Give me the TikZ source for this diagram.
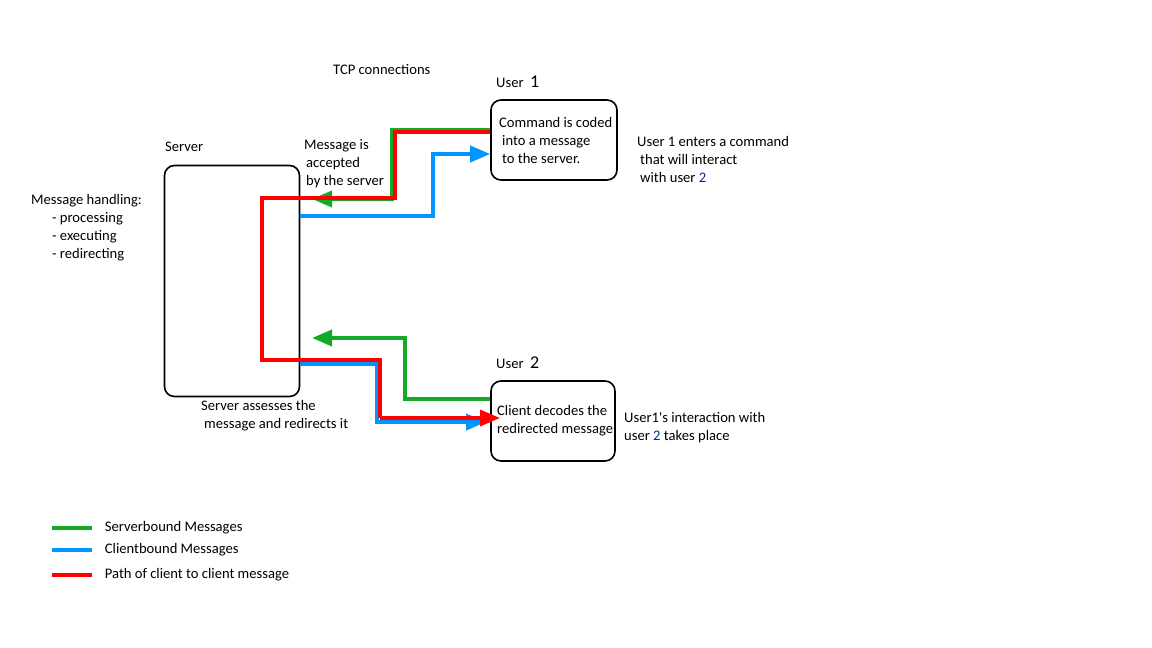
\documentclass[tikz,border=0pt]{standalone}
\usepackage{fontspec}
\setmainfont{Carlito}
\usetikzlibrary{arrows.meta}
\definecolor{sbgreen}{RGB}{20,170,40}
\definecolor{cbblue}{RGB}{0,150,255}
\definecolor{pathred}{RGB}{255,0,0}
\definecolor{numblue}{RGB}{0,40,140}

\begin{document}
\begin{tikzpicture}[x=1pt,y=-1pt,>={Triangle[length=20pt,width=16pt]},line join=miter,
  box/.style={draw,line width=1.6pt,rounded corners=10pt},
  txt/.style={font=\fontsize{14.6}{17.9}\selectfont,align=left,inner sep=0pt,anchor=west},
  serverbound/.style={draw=sbgreen,line width=3.8pt},
  clientbound/.style={draw=cbblue,line width=3.8pt},
  c2c/.style={draw=pathred,line width=3.2pt}]

  \useasboundingbox (0,0) rectangle (1152,648);

  % boxes
  \node[box,minimum width=135pt,minimum height=231pt] (srv) at (232,281) {};
  \node[box,minimum width=126pt,minimum height=80pt] (user1) at (554,140) {};
  \node[box,minimum width=124pt,minimum height=80pt] (user2) at (553,421) {};

  % labels
  \node[txt] (tcp) at (333,69.5) {TCP connections};
  \node[txt] (u1lbl) at (496,82) {User\ \ {\fontsize{18}{18}\selectfont 1}};
  \node[txt] (srvlbl) at (165,146.5) {Server};
  \node[txt] (accept) at (304,163.5) {Message is\\\hspace*{2pt}accepted\\\hspace*{2pt}by the server};
  \node[txt] (cmd) at (499,140.5) {Command is coded\\\hspace*{3pt}into a message\\\hspace*{3pt}to the server.};
  \node[txt] (enter) at (637,159.5) {User 1 enters a command\\\hspace*{3pt}that will interact\\\hspace*{3pt}with user \textcolor{numblue}{2}};
  \node[txt] (handling) at (31,228) {Message handling:\\\hspace*{21pt}- processing\\\hspace*{21pt}- executing\\\hspace*{21pt}- redirecting};
  \node[txt] (assess) at (201,415.5) {Server assesses the\\\hspace*{3pt}message and redirects it};
  \node[txt] (u2lbl) at (496,363) {User\ \ {\fontsize{18}{18}\selectfont 2}};
  \node[txt] (decode) at (497,420.5) {Client decodes the\\redirected message};
  \node[txt] (interact) at (624,427.5) {User1\textquotesingle s interaction with\\user \textcolor{numblue}{2}\ takes place};

  % connectors
  \draw[clientbound,->] (srv.east |- 0,216) -- (433,216) -- (433,154) -- (user1.west |- 0,154);
  \draw[clientbound,->] (srv.east |- 0,364) -- (377,364) -- (377,422) -- (486,422);
  \draw[serverbound,->] (user1.west |- 0,130) -- (392,130) -- (392,199) -- (312,199);
  \draw[serverbound,->] (user2.west |- 0,399) -- (405,399) -- (405,338) -- (312,338);
  \draw[c2c] (user1.west |- 0,132) -- (395,132) -- (395,198) -- (262,198) -- (262,360) -- (380,360) -- (380,418);
  \draw[c2c,->] (380,418) -- (500,418);

  % legend
  \draw[serverbound] (52,528) -- (92,528) node[txt,black,right=11pt] (lgsb) {Serverbound Messages};
  \draw[clientbound] (52,550) -- (92,550) node[txt,black,right=11pt] (lgcb) {Clientbound Messages};
  \draw[c2c,line width=3.8pt] (52,575) -- (92,575) node[txt,black,right=11pt] (lgcc) {Path of client to client message};
\end{tikzpicture}
\end{document}
